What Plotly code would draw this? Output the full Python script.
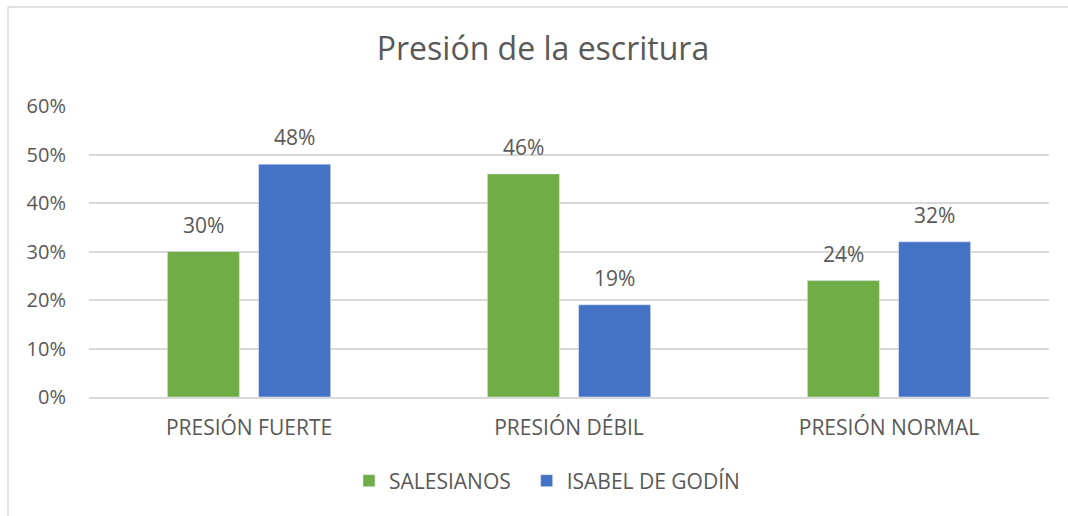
import plotly.graph_objects as go

categories = ["PRESIÓN FUERTE", "PRESIÓN DÉBIL", "PRESIÓN NORMAL"]
salesianos = [0.30, 0.46, 0.24]
isabel = [0.48, 0.19, 0.32]
series_names = ["SALESIANOS", "ISABEL DE GODÍN"]
yticks = [0, 0.1, 0.2, 0.3, 0.4, 0.5, 0.6]
yticklabels = ["0%", "10%", "20%", "30%", "40%", "50%", "60%"]

FONT = "Open Sans, Liberation Sans, sans-serif"
GRAY = "#595959"
COLORS = ["#70AD47", "#4472C4"]

W, H = 1068, 516
L, R, T, B = 89, 19, 106, 119
pw, ph = W - L - R, H - T - B

def px(x):
    return (x - L) / pw

def py(y):
    return (H - B - y) / ph

fig = go.Figure()
annotations = []
for i, (name, vals) in enumerate([(series_names[0], salesianos),
                                   (series_names[1], isabel)]):
    fig.add_trace(go.Bar(x=categories, y=vals,
                         name=name + ("\u00a0\u00a0" if i == 0 else ""),
                         marker_color=COLORS[i]))
    for c, v in zip(categories, vals):
        annotations.append(dict(
            x=c, y=v, xref="x", yref="y", text=f"{round(v*100)}%",
            showarrow=False, yanchor="bottom", xanchor="center",
            xshift=(-45.5 if i == 0 else 45.5), yshift=11,
            font=dict(size=21, color=GRAY, family=FONT)))

fig.update_layout(
    width=W, height=H,
    margin=dict(l=L, r=R, t=T, b=B),
    paper_bgcolor="white", plot_bgcolor="white",
    barmode="group", bargap=0.43, bargroupgap=0.21,
    font=dict(family=FONT, color=GRAY),
    title=dict(text="Presión de la escritura", x=543 / W, xanchor="center",
               y=1 - 49 / H, yanchor="middle",
               font=dict(size=32, color=GRAY, family=FONT)),
    legend=dict(orientation="h", x=px(547), xanchor="center",
                y=py(481), yanchor="middle",
                font=dict(size=21, color=GRAY, family=FONT),
                itemwidth=30, traceorder="normal"),
    yaxis=dict(range=[0, 0.6], tickvals=yticks, ticktext=yticklabels,
               showgrid=True, gridcolor="#d9d9d9", gridwidth=1.5,
               zeroline=False, showline=False,
               tickfont=dict(size=20, color=GRAY, family=FONT),
               ticklabelstandoff=22),
    xaxis=dict(showline=True, linecolor="#d9d9d9", linewidth=1.5,
               tickfont=dict(size=21, color=GRAY, family=FONT),
               ticklabelstandoff=11),
    annotations=annotations,
    shapes=[
        dict(type="line", xref="paper", yref="paper",
             x0=px(8), x1=px(8), y0=py(7), y1=py(H + 5),
             line=dict(color="#d9d9d9", width=1.5)),
        dict(type="line", xref="paper", yref="paper",
             x0=px(8), x1=px(W + 5), y0=py(7), y1=py(7),
             line=dict(color="#d9d9d9", width=1.5)),
    ],
)

fig.write_html("out.html", config={"displayModeBar": False},
               post_script="document.body.style.margin='0';")
